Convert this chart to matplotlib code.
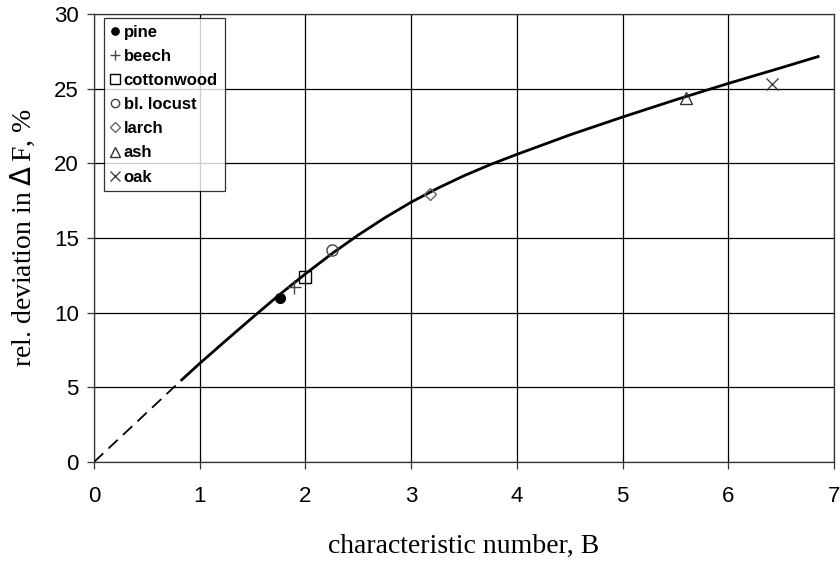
import numpy as np
import matplotlib
matplotlib.use('Agg')
import matplotlib.pyplot as plt

plt.rcParams['font.family'] = ['Liberation Sans', 'DejaVu Sans']

# measured species
species = ['pine', 'beech', 'cottonwood', 'bl. locust', 'larch', 'ash', 'oak']
B_vals = [1.76, 1.89, 2.00, 2.25, 3.18, 5.60, 6.41]
dev_vals = [11.0, 11.7, 12.4, 14.2, 17.95, 24.4, 25.3]

# fitted curve
curve_B = [0.83, 1.0, 1.25, 1.5, 1.75, 2.0, 2.25, 2.5, 2.75, 3.0, 3.25, 3.5,
           3.75, 4.0, 4.5, 5.0, 5.5, 6.0, 6.5, 6.85]
curve_dev = [5.5, 6.6, 8.15, 9.68, 11.18, 12.6, 13.95, 15.2, 16.35, 17.4, 18.33,
             19.17, 19.92, 20.6, 21.9, 23.1, 24.25, 25.35, 26.4, 27.15]
# dashed extrapolation to origin
extrap_B = [0.0, 0.83]
extrap_dev = [0.0, 5.5]

styles = {
    'pine':       dict(marker='o', ms=7, mfc='black', mec='black'),
    'beech':      dict(marker='+', ms=10, mfc='none', mec='#444444', mew=1.0),
    'cottonwood': dict(marker='s', ms=9, mfc='none', mec='black', mew=1.0),
    'bl. locust': dict(marker='o', ms=8, mfc='none', mec='#444444', mew=1.0),
    'larch':      dict(marker='D', ms=6.5, mfc='none', mec='#666666', mew=1.0),
    'ash':        dict(marker='^', ms=9, mfc='none', mec='#333333', mew=1.0),
    'oak':        dict(marker='x', ms=9, mfc='none', mec='#444444', mew=1.0),
}

fig = plt.figure(figsize=(8.4, 5.63), dpi=100)
ax = fig.add_axes([94 / 840, 1 - 462 / 563, 740 / 840, 448 / 563])

ax.plot(extrap_B, extrap_dev, color='black', lw=1.3, ls=(0, (7, 4)))
ax.plot(curve_B, curve_dev, color='black', lw=2.0)

for name, b, d in zip(species, B_vals, dev_vals):
    ax.plot([b], [d], ls='none', label=name, zorder=3, **styles[name])

ax.set_xlim(0, 7)
ax.set_ylim(0, 30)
ax.set_xticks(range(0, 8))
ax.set_yticks(range(0, 31, 5))
ax.grid(True, color='black', lw=0.9)
ax.set_axisbelow(True)
for s in ax.spines.values():
    s.set_linewidth(0.9)
    s.set_color('#333333')
ax.tick_params(direction='out', length=5, width=0.9, labelsize=16, color='#333333')
ax.tick_params(axis='x', pad=12)
ax.tick_params(axis='y', pad=6)

ax.set_xlabel('characteristic number, B', family=['Liberation Serif'], fontsize=20, labelpad=20)
ax.set_ylabel(r'rel. deviation in $\Delta\,$F, %', family=['Liberation Serif'], fontsize=20, labelpad=12)

leg = ax.legend(loc='upper left', bbox_to_anchor=(0.011, 0.995),
                prop={'weight': 'bold', 'size': 12}, frameon=True, fancybox=False,
                handlelength=0.5, handletextpad=0.3, labelspacing=0.55,
                borderpad=0.4, borderaxespad=0.1, markerscale=0.75)
leg.get_frame().set_edgecolor('black')
leg.get_frame().set_linewidth(0.9)

fig.savefig('out.png', dpi=100)
